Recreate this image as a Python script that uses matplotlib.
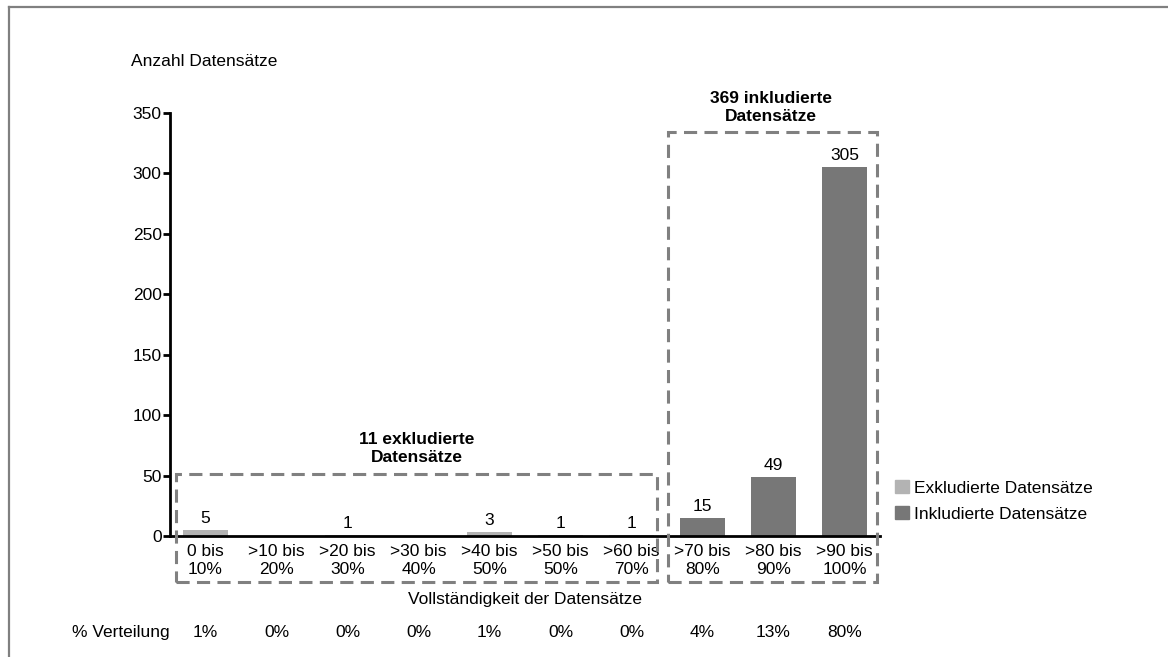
import matplotlib.pyplot as plt
from matplotlib.patches import Rectangle, Patch
from matplotlib.lines import Line2D

plt.rcParams['font.family'] = ['Liberation Sans', 'DejaVu Sans']
plt.rcParams['font.size'] = 12.5

# Vollständigkeitsklassen und Anzahl Datensätze
kategorien = ['0 bis\n10%', '>10 bis\n20%', '>20 bis\n30%', '>30 bis\n40%', '>40 bis\n50%',
              '>50 bis\n50%', '>60 bis\n70%', '>70 bis\n80%', '>80 bis\n90%', '>90 bis\n100%']
anzahl = [5, 0, 1, 0, 3, 1, 1, 15, 49, 305]
inkludiert = [False, False, False, False, False, False, False, True, True, True]
verteilung = ['1%', '0%', '0%', '0%', '1%', '0%', '0%', '4%', '13%', '80%']

hell = '#b3b3b3'
dunkel = '#777777'
rahmen = '#808080'

fig = plt.figure(figsize=(11.68, 6.57), dpi=100)
ax = fig.add_axes([170/1168, 121/657, 710/1168, 423/657])

x = list(range(len(anzahl)))
farben = [dunkel if i else hell for i in inkludiert]
ax.bar(x, anzahl, width=0.63, color=farben)

for xi, n in zip(x, anzahl):
    if n > 0:
        ax.annotate(str(n), (xi, n), xytext=(0, 3), textcoords='offset points',
                    ha='center', va='bottom')

ax.set_xlim(-0.5, 9.5)
ax.set_ylim(0, 350)
ax.set_yticks(range(0, 351, 50))
ax.set_xticks(x)
ax.set_xticklabels(kategorien, linespacing=1.2)
ax.tick_params(axis='x', length=0, pad=6)
ax.tick_params(axis='y', length=5, width=2, pad=1)
for s in ['top', 'right']:
    ax.spines[s].set_visible(False)
for s in ['left', 'bottom']:
    ax.spines[s].set_linewidth(2)

# gestrichelte Rahmen um exkludierte / inkludierte Gruppen
strich = (0, (4.3, 2.4))
ax.add_patch(Rectangle((-0.415, -38), 6.78, 89.3, fill=False, edgecolor=rahmen,
                       lw=2.2, linestyle=strich, clip_on=False, zorder=5))
ax.add_patch(Rectangle((6.51, -38), 2.95, 372.3, fill=False, edgecolor=rahmen,
                       lw=2.2, linestyle=strich, clip_on=False, zorder=5))
ax.text(2.98, 72.4, '11 exkludierte\nDatensätze', ha='center', va='center',
        fontweight='bold', linespacing=1.2)
ax.text(7.96, 354.5, '369 inkludierte\nDatensätze', ha='center', va='center',
        fontweight='bold', linespacing=1.2, clip_on=False)

ax.text(-39/710, 474/423, 'Anzahl Datensätze', transform=ax.transAxes,
        ha='left', va='center')
tr = ax.get_xaxis_transform()
ax.text(4.5, -0.151, 'Vollständigkeit der Datensätze', transform=tr,
        ha='center', va='center')

ax.text(-0.5, -0.229, '% Verteilung', transform=tr, ha='right', va='center')
for xi, p in zip(x, verteilung):
    ax.text(xi, -0.229, p, transform=tr, ha='center', va='center')

handles = [Patch(color=hell, label='Exkludierte Datensätze'),
           Patch(color=dunkel, label='Inkludierte Datensätze')]
fig.legend(handles=handles, loc='upper left', bbox_to_anchor=(895/1168, 1 - 480/657),
           frameon=False, borderpad=0, borderaxespad=0, handlelength=0.8,
           handleheight=0.8, handletextpad=0.3, labelspacing=0.6)

# äußerer Rahmen oben und links
fig.add_artist(Line2D([9/1168, 1], [1 - 7/657, 1 - 7/657], transform=fig.transFigure,
                      color=rahmen, lw=1.6))
fig.add_artist(Line2D([9/1168, 9/1168], [0, 1 - 7/657], transform=fig.transFigure,
                      color=rahmen, lw=1.6))

fig.savefig('out.png', dpi=100)
